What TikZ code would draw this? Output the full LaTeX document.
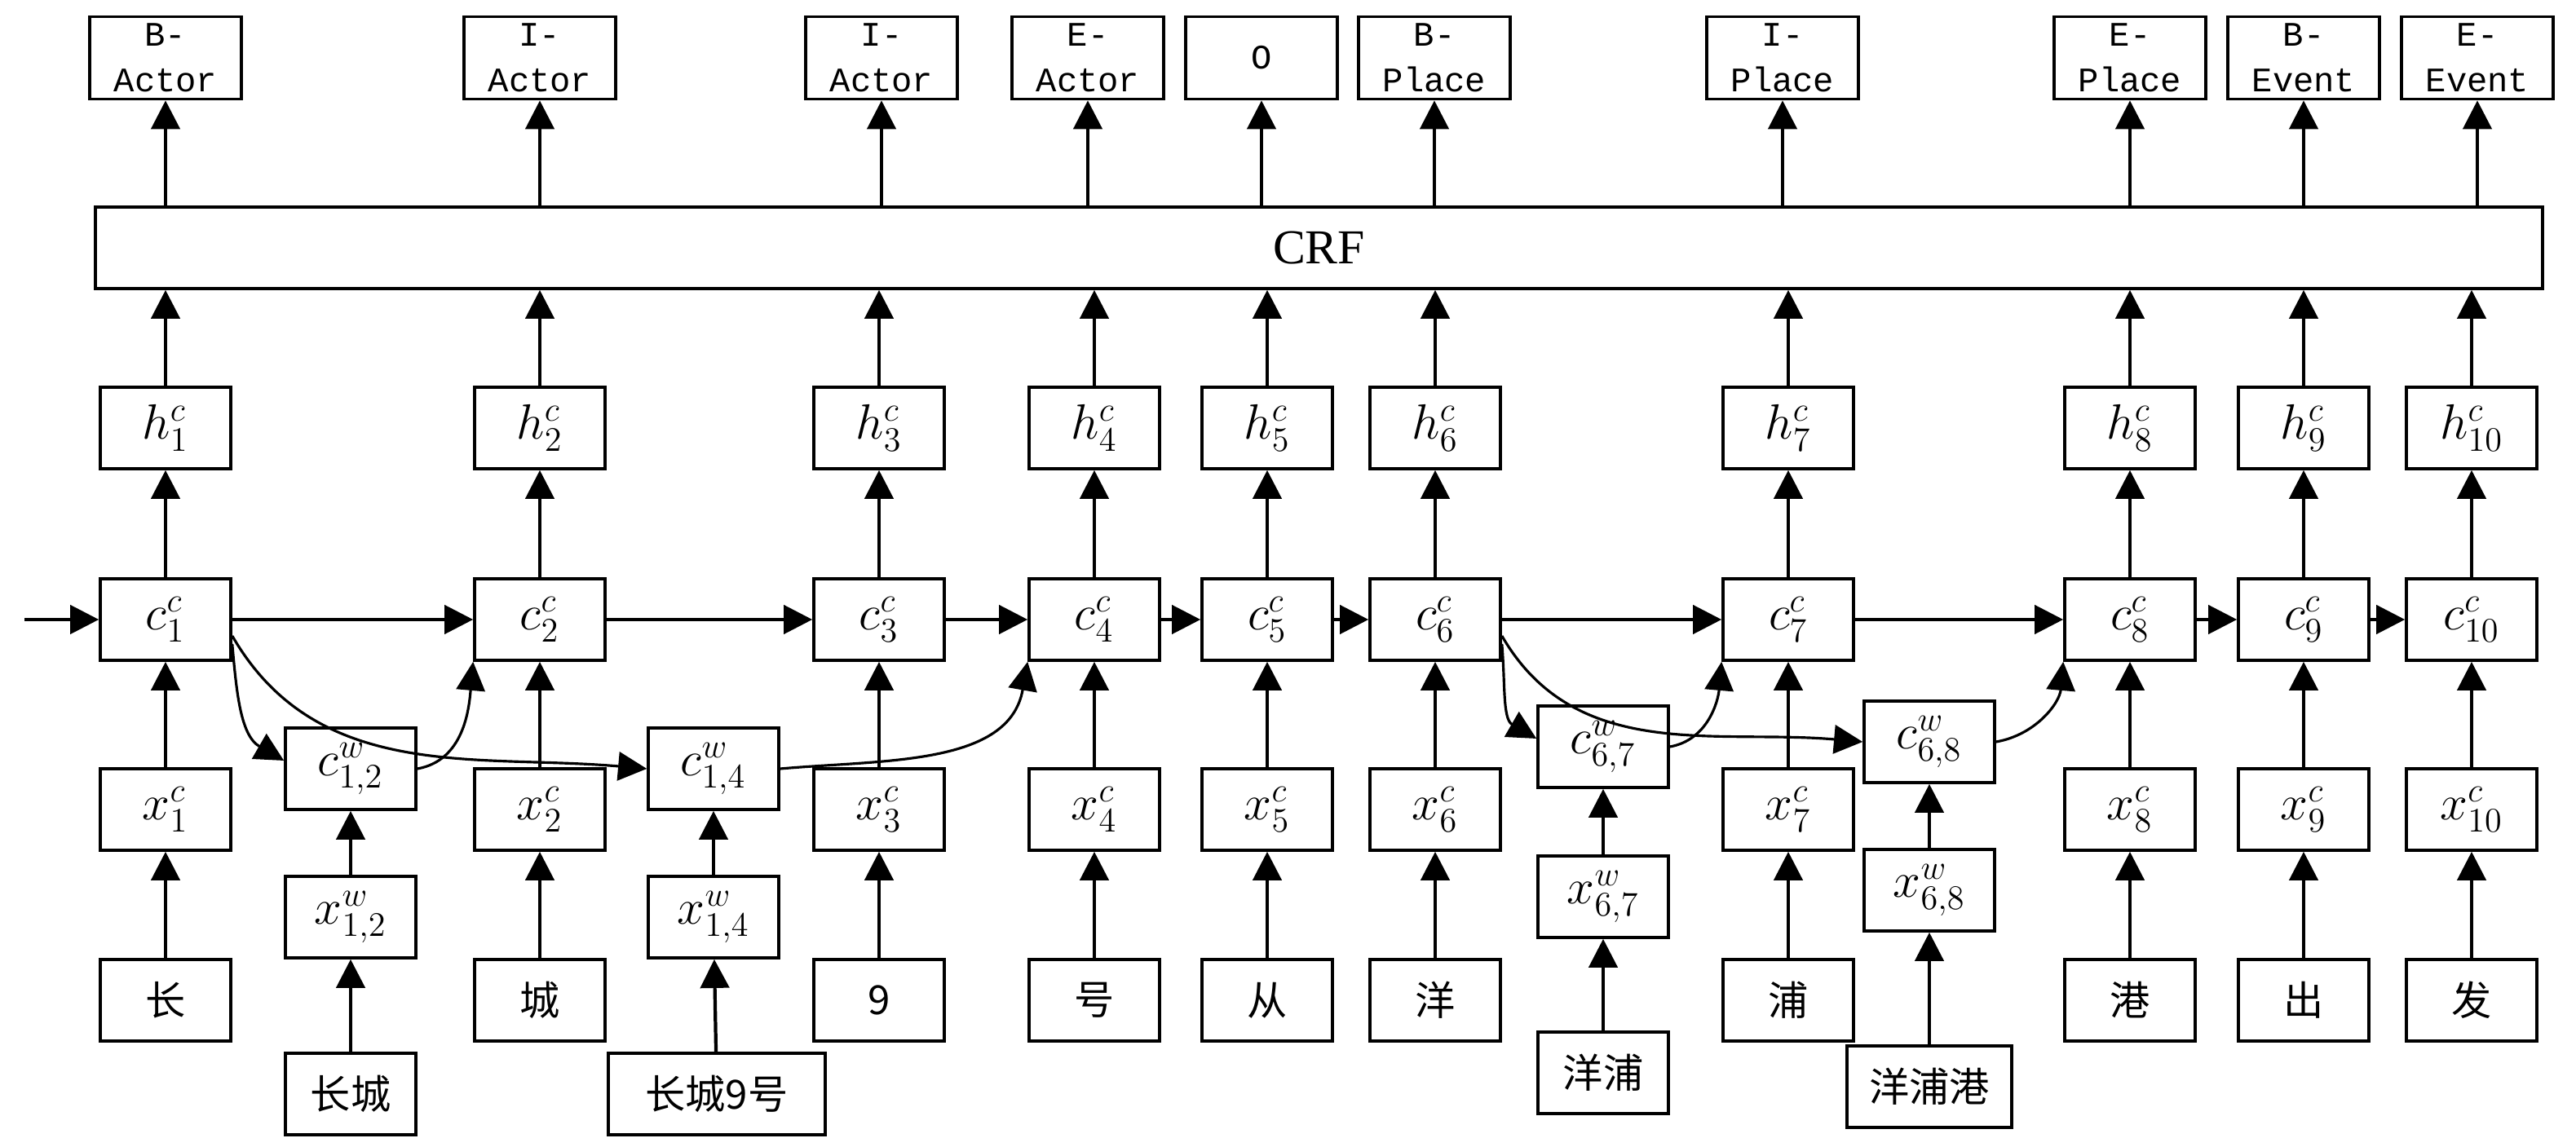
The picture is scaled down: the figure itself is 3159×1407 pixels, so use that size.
\documentclass[tikz,border=0pt]{standalone}
\usepackage{fontspec}
\setmainfont{Liberation Serif}
\newfontfamily\cjk{Noto Sans CJK SC}
\newfontfamily\tagfont{Liberation Mono}
\usetikzlibrary{arrows.meta}
\begin{document}
\begin{tikzpicture}[x=0.01cm,y=-0.01cm,
    >={Triangle[length=10pt,width=10pt]},
    box/.style={draw,line width=1pt,minimum width=1.6cm,minimum height=1cm,inner sep=0pt,font=\fontsize{17}{20}\selectfont},
    tag/.style={draw,line width=1pt,minimum width=1.86cm,minimum height=1.01cm,inner sep=0pt,align=center,
                font=\tagfont\fontsize{12}{16}\selectfont},
    chr/.style={box,font=\cjk\fontsize{14}{16}\selectfont},
    wide/.style={minimum width=2.02cm},
    wider/.style={minimum width=2.66cm},
    arr/.style={->,line width=1.2pt},
    thin/.style={->,line width=0.9pt}]
  \useasboundingbox (0,0) rectangle (3159,1407);

  % CRF layer
  \node[draw,line width=1pt,minimum width=29.99cm,minimum height=1cm,inner sep=0pt,
        font=\fontsize{17}{20}\selectfont] (crf) at (1617.5,304) {CRF};

  % tags
  \node[tag] (t1) at (203,71) {B-\\Actor};
  \node[tag] (t2) at (662,71) {I-\\Actor};
  \node[tag] (t3) at (1081,71) {I-\\Actor};
  \node[tag] (t4) at (1334,71) {E-\\Actor};
  \node[tag] (t5) at (1547,71) {O};
  \node[tag] (t6) at (1759,71) {B-\\Place};
  \node[tag] (t7) at (2186,71) {I-\\Place};
  \node[tag] (t8) at (2612,71) {E-\\Place};
  \node[tag] (t9) at (2825,71) {B-\\Event};
  \node[tag] (t10) at (3038,71) {E-\\Event};

  % character columns
  \foreach \i/\cx/\ch in {1/203/长,2/662/城,3/1078/9,4/1342/号,5/1554/从,
                          6/1760/洋,7/2193/浦,8/2612/港,9/2825/出,10/3031/发}{
    \node[box] (h\i) at (\cx,525) {$h^{c}_{\i}$};
    \node[box] (c\i) at (\cx,760) {$c^{c}_{\i}$};
    \node[box] (x\i) at (\cx,993) {$x^{c}_{\i}$};
    \node[chr] (w\i) at (\cx,1227) {\ch};
    \draw[arr] (w\i) -- (x\i);
    \draw[arr] (x\i) -- (c\i);
    \draw[arr] (c\i) -- (h\i);
    \draw[arr] (h\i) -- (h\i |- crf.south);
    \draw[arr] (crf.north -| t\i) -- (t\i);
  }

  % word lattice cells
  \node[box] (cw12) at (430,943) {$c^{w}_{1,2}$};
  \node[box] (xw12) at (430,1125) {$x^{w}_{1,2}$};
  \node[chr] (ww12) at (430,1342) {长城};
  \node[box] (cw14) at (875,943) {$c^{w}_{1,4}$};
  \node[box] (xw14) at (875,1125) {$x^{w}_{1,4}$};
  \node[chr,wider] (ww14) at (879,1342) {长城9号};
  \node[box] (cw67) at (1966,916) {$c^{w}_{6,7}$};
  \node[box] (xw67) at (1966,1100) {$x^{w}_{6,7}$};
  \node[chr] (ww67) at (1966,1316) {洋浦};
  \node[box] (cw68) at (2366,910) {$c^{w}_{6,8}$};
  \node[box] (xw68) at (2366,1092) {$x^{w}_{6,8}$};
  \node[chr,wide] (ww68) at (2366,1333) {洋浦港};
  \foreach \w in {12,14,67,68}{
    \draw[arr] (ww\w) -- (xw\w);
    \draw[arr] (xw\w) -- (cw\w);
  }

  % chain
  \coordinate (in) at (30,760);
  \draw[arr] (in) -- (c1);
  \foreach \a/\b in {1/2,2/3,3/4,4/5,5/6,6/7,7/8,8/9,9/10}
    \draw[arr] (c\a) -- (c\b);

  % lattice links
  \draw[thin] ([yshift=-0.3cm]c1.east) to[out=-85,in=150] ([yshift=0.1cm]cw12.west);
  \draw[thin] ([yshift=-0.2cm]c1.east) to[out=-60,in=175] (cw14.west);
  \draw[thin] (cw12.east) to[out=10,in=-95] (c2.south west);
  \draw[thin] (cw14.east) to[out=5,in=-100] (c4.south west);
  \draw[thin] ([yshift=-0.3cm]c6.east) to[out=-85,in=150] ([yshift=0.1cm]cw67.west);
  \draw[thin] ([yshift=-0.2cm]c6.east) to[out=-60,in=175] (cw68.west);
  \draw[thin] (cw67.east) to[out=10,in=-95] (c7.south west);
  \draw[thin] (cw68.east) to[out=10,in=-95] (c8.south west);
\end{tikzpicture}
\end{document}
